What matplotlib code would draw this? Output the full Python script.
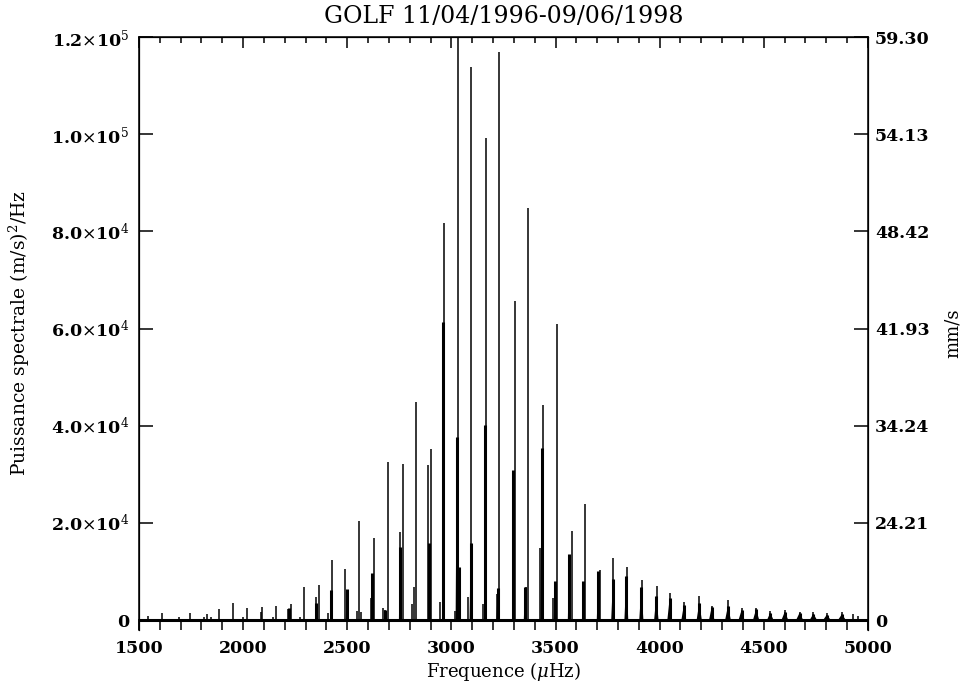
import numpy as np
import matplotlib.pyplot as plt
from matplotlib.ticker import MultipleLocator

plt.rcParams['font.family'] = 'DejaVu Serif'
plt.rcParams['mathtext.fontset'] = 'dejavuserif'

# --- spectre GOLF : pics fins (uHz, (m/s)^2/Hz) ---
pic_freq = [1545, 1609, 1692, 1745, 1812, 1828, 1847, 1884, 1953, 2001,
            2020, 2084, 2092, 2144, 2156, 2216, 2229, 2273, 2292, 2352,
            2365, 2408, 2425, 2489, 2546, 2558, 2566, 2614, 2630, 2673,
            2682, 2697, 2753, 2767, 2813, 2822, 2830, 2887, 2902, 2946,
            2963, 3018, 3033, 3082, 3095, 3154, 3168, 3218, 3231, 3306,
            3357, 3370, 3426, 3442, 3490, 3505, 3578, 3642, 3714, 3778,
            3842, 3914, 3986, 4050, 4118, 4191, 4250, 4330, 4393, 4463,
            4529, 4601, 4672, 4738, 4803, 4875, 4929, 4953]
pic_puiss = [800, 1400, 700, 1400, 700, 1200, 700, 2200, 3450, 700,
             2500, 1700, 2750, 700, 2900, 2200, 3400, 700, 6700, 4800,
             7300, 1400, 12300, 10600, 1900, 20400, 1600, 4500, 16800, 2400,
             2100, 32600, 18200, 32200, 3400, 6700, 44900, 32000, 35300, 3700,
             81700, 1900, 130000, 4800, 113800, 3400, 99200, 5300, 117000, 65600,
             6700, 84800, 14800, 44250, 4500, 60900, 18400, 23900, 10300, 12700,
             10900, 8200, 7000, 5600, 3700, 4940, 2900, 4200, 2450, 2450,
             1800, 2000, 1600, 1600, 1450, 1550, 1300, 900]

# --- parties epaisses (corps des modes) ---
corps_freq = [2222, 2349, 2422, 2497, 2620, 2682, 2753, 2894, 2962, 3026,
              3038, 3093, 3162, 3222, 3298, 3354, 3434, 3498, 3566, 3634,
              3706, 3776, 3840, 3912, 3984, 4048, 4116, 4190, 4250, 4328,
              4393, 4463, 4531, 4601, 4672, 4738, 4803, 4875]
corps_puiss = [2470, 3560, 6170, 6400, 9600, 2000, 15100, 15900, 61400, 37600,
               10900, 15900, 40100, 6500, 30900, 6800, 35500, 8000, 13600, 8000,
               10000, 8500, 9000, 6800, 5000, 4500, 3000, 3500, 2700, 2900,
               2000, 2200, 1500, 1700, 1500, 1300, 1100, 1200]

# --- axes ---
ticks_puiss = [0, 2e4, 4e4, 6e4, 8e4, 1.0e5, 1.2e5]
labels_puiss = ['0', r'2.0$\times$10$^4$', r'4.0$\times$10$^4$', r'6.0$\times$10$^4$',
                r'8.0$\times$10$^4$', r'1.0$\times$10$^5$', r'1.2$\times$10$^5$']
labels_ampl = ['0', '24.21', '34.24', '41.93', '48.42', '54.13', '59.30']

fig = plt.figure(figsize=(9.63, 6.84), dpi=100)
ax = fig.add_axes([0.1443, 0.0789, 0.757, 0.867])

ax.axhline(0, color='k', lw=2.2)
for f, p in zip(corps_freq, corps_puiss):
    hw = np.interp(f, [2000, 3600, 5000], [3.0, 7.0, 20.0])
    ax.fill([f - hw, f, f + hw], [0, p, 0], color='k', lw=0)
ax.vlines(corps_freq, 0, corps_puiss, color='k', lw=2.2)
ax.vlines(pic_freq, 0, pic_puiss, color='k', lw=1.1)

ax.set_xlim(1500, 5000)
ax.set_ylim(-2060, 1.2e5)
ax.spines['bottom'].set_visible(False)
for s in ['left', 'right', 'top']:
    ax.spines[s].set_linewidth(1.1)

# axe du bas : toutes les graduations de meme longueur
ax.xaxis.set_major_locator(MultipleLocator(500))
ax.xaxis.set_minor_locator(MultipleLocator(100))
ax.tick_params(axis='x', which='both', direction='in', top=False, bottom=True,
               length=8, width=1.1, labelsize=12.5, pad=7)
for lab in ax.get_xticklabels():
    lab.set_fontweight('bold')

# axe du haut
axt = ax.twiny()
axt.set_xlim(ax.get_xlim())
axt.xaxis.set_major_locator(MultipleLocator(500))
axt.xaxis.set_minor_locator(MultipleLocator(100))
axt.tick_params(axis='x', which='both', direction='in', width=1.1, labeltop=False)
axt.tick_params(axis='x', which='major', length=8)
axt.tick_params(axis='x', which='minor', length=4.5)
axt.spines['bottom'].set_visible(False)

ax.set_yticks(ticks_puiss)
ax.set_yticklabels(labels_puiss, fontweight='bold')
ax.tick_params(axis='y', direction='in', length=10, width=1.1, labelsize=12.5, pad=7)

ax2 = ax.twinx()
ax2.set_ylim(ax.get_ylim())
ax2.set_yticks(ticks_puiss)
ax2.set_yticklabels(labels_ampl, fontweight='bold')
ax2.tick_params(axis='y', direction='in', length=10, width=1.1, labelsize=12.5, pad=5)
ax2.spines['bottom'].set_visible(False)
ax2.set_ylabel('mm/s', fontsize=13, rotation=90, labelpad=10)

axt.set_title('GOLF 11/04/1996-09/06/1998', fontsize=17, pad=10)
ax.set_xlabel(r'Frequence ($\mu$Hz)', fontsize=13, labelpad=2)
ax.set_ylabel(r'Puissance spectrale (m/s)$^2$/Hz', fontsize=13.5, labelpad=14)

fig.savefig('out.png', dpi=100)
